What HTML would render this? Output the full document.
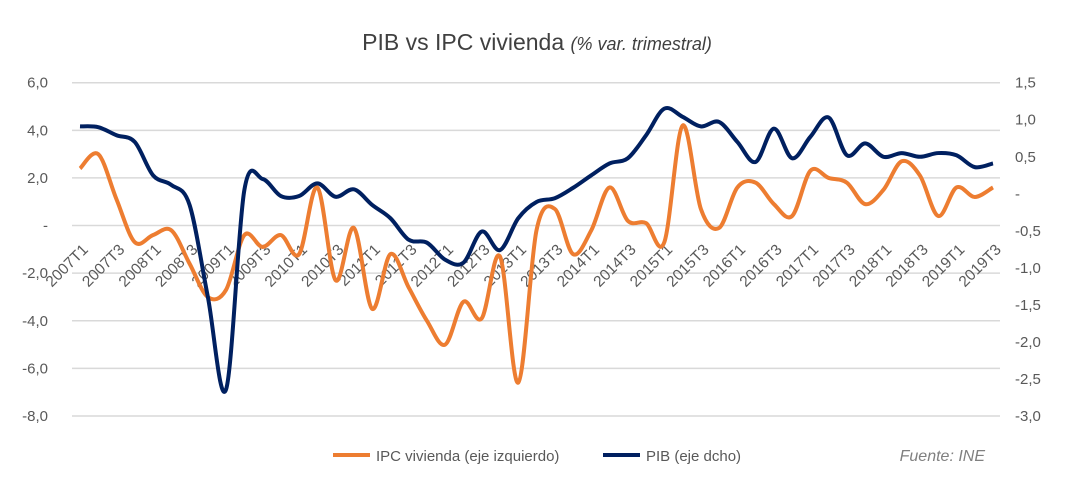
<!DOCTYPE html>
<html><head><meta charset="utf-8"><style>
body{margin:0;background:#fff;}
svg text{font-family:"Liberation Sans",sans-serif;}
</style></head><body>
<svg id="chart" width="1081" height="490" xmlns="http://www.w3.org/2000/svg">
<rect width="1081" height="490" fill="#fff"/>
<text x="537" y="50" text-anchor="middle" font-size="23" fill="#404040">PIB vs IPC vivienda <tspan font-style="italic" font-size="18">(% var. trimestral)</tspan></text>
<g id="grid"></g><g id="laxis"></g><g id="raxis"></g><g id="xaxis"></g><g id="series"></g>
<g>
<line x1="333" y1="455" x2="370" y2="455" stroke="#ED7D31" stroke-width="4"/>
<text x="376" y="461" font-size="15" fill="#595959">IPC vivienda (eje izquierdo)</text>
<line x1="603" y1="455" x2="640" y2="455" stroke="#002060" stroke-width="4"/>
<text x="646" y="461" font-size="15" fill="#595959">PIB (eje dcho)</text>
</g>
<text x="985" y="461" text-anchor="end" font-size="16" font-style="italic" fill="#808080">Fuente: INE</text>
</svg>
<script>
const quarters=[];for(let y=2007;y<=2019;y++)for(let q=1;q<=4;q++){if(y===2019&&q>3)break;quarters.push(y+'T'+q);}
const ipc=[2.4,3.0,1.1,-0.7,-0.4,-0.2,-1.6,-3.0,-2.7,-0.4,-0.9,-0.4,-1.2,1.6,-2.3,-0.1,-3.5,-1.2,-2.6,-4.0,-5.0,-3.2,-3.9,-1.3,-6.6,-0.2,0.7,-1.2,-0.2,1.6,0.2,0.1,-0.7,4.2,0.7,-0.1,1.6,1.8,0.9,0.4,2.3,2.0,1.8,0.9,1.5,2.7,2.1,0.4,1.6,1.2,1.6];
const pib=[0.91,0.90,0.79,0.70,0.25,0.12,-0.15,-1.39,-2.64,0.05,0.20,-0.03,-0.03,0.14,-0.04,0.06,-0.15,-0.33,-0.62,-0.66,-0.89,-0.93,-0.51,-0.76,-0.33,-0.11,-0.06,0.08,0.25,0.41,0.48,0.79,1.15,1.04,0.91,0.97,0.70,0.43,0.88,0.48,0.77,1.03,0.52,0.68,0.50,0.55,0.50,0.55,0.52,0.36,0.41];
const leftTicks=[6,4,2,0,-2,-4,-6,-8];
const rightTicks=[1.5,1.0,0.5,0,-0.5,-1.0,-1.5,-2.0,-2.5,-3.0];
const NS='http://www.w3.org/2000/svg';
const X0=80,X1=993,YT=82.7,YB=416;
const xs=i=>X0+i*(X1-X0)/(quarters.length-1);
const yl=v=>YT+(6-v)*(YB-YT)/14;
const yr=v=>YT+(1.5-v)*(YB-YT)/4.5;
function mk(tag,at,parent){const e=document.createElementNS(NS,tag);for(const k in at)e.setAttribute(k,at[k]);parent.appendChild(e);return e;}
const fmt=v=>v===0?'-':v.toFixed(1).replace('.',',');
const grid=document.getElementById('grid'),la=document.getElementById('laxis'),ra=document.getElementById('raxis'),xa=document.getElementById('xaxis'),se=document.getElementById('series');
leftTicks.forEach(v=>{
 const l=mk('line',{x1:72,x2:1000,y1:yl(v),y2:yl(v),stroke:'#D9D9D9','stroke-width':1.5},grid);
 
 
 const t=mk('text',{x:48,y:yl(v)+5,'text-anchor':'end','font-size':15,fill:'#595959'},la);t.textContent=fmt(v);
 
 
});
rightTicks.forEach(v=>{
 const t=mk('text',{x:1015,y:yr(v)+5,'font-size':15,fill:'#595959'},ra);t.textContent=fmt(v);
 
 
});
quarters.forEach((q,i)=>{if(i%2)return;
 const x=xs(i)+9,y=yl(0)+25;
 const t=mk('text',{x:x,y:y,'text-anchor':'end','font-size':15.5,fill:'#595959',transform:`rotate(-45 ${x} ${y})`},xa);t.textContent=q;
 
 
});
function path(vals,yf){const p=vals.map((v,i)=>[xs(i),yf(v)]);let d='M'+p[0][0]+','+p[0][1];
 for(let i=0;i<p.length-1;i++){const a=p[Math.max(0,i-1)],b=p[i],c=p[i+1],e=p[Math.min(p.length-1,i+2)];
 d+=` C${b[0]+(c[0]-a[0])/6},${b[1]+(c[1]-a[1])/6} ${c[0]-(e[0]-b[0])/6},${c[1]-(e[1]-b[1])/6} ${c[0]},${c[1]}`;}return d;}
const p1=mk('path',{d:path(ipc,yl),fill:'none',stroke:'#ED7D31','stroke-width':4,'stroke-linejoin':'round'},se);


const p2=mk('path',{d:path(pib,yr),fill:'none',stroke:'#002060','stroke-width':4,'stroke-linejoin':'round'},se);


</script>
</body></html>
